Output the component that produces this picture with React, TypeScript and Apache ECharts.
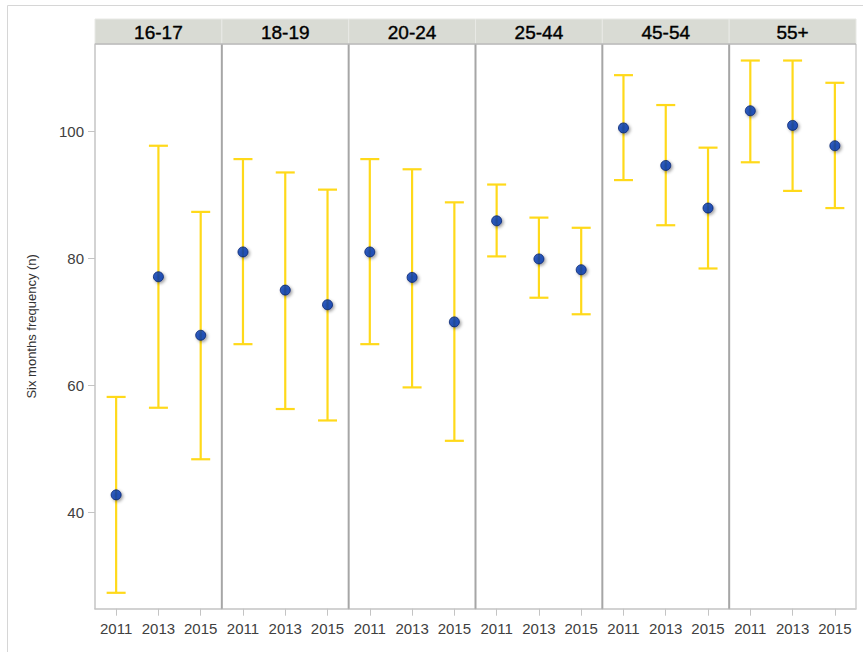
import React, { useEffect, useRef } from "react";
import * as echarts from "echarts";

const groups = ["16-17", "18-19", "20-24", "25-44", "45-54", "55+"];
const years = ["2011", "2013", "2015"];
const means = [
  [42.8, 77.1, 67.9],
  [81.0, 75.0, 72.7],
  [81.0, 77.0, 70.0],
  [85.9, 79.9, 78.2],
  [100.5, 94.6, 87.9],
  [103.2, 100.9, 97.7],
];
const lower = [
  [27.4, 56.5, 48.4],
  [66.5, 56.3, 54.5],
  [66.5, 59.7, 51.3],
  [80.3, 73.8, 71.2],
  [92.3, 85.2, 78.4],
  [95.1, 90.6, 87.9],
];
const upper = [
  [58.2, 97.7, 87.3],
  [95.6, 93.5, 90.8],
  [95.6, 94.0, 88.8],
  [91.6, 86.4, 84.8],
  [108.8, 104.1, 97.4],
  [111.1, 111.1, 107.6],
];
const yTicks = [40, 60, 80, 100];
const yMin = 24.9;
const yMax = 113.7;
const yTitle = "Six months frequency (n)";

const PLOT_LEFT = 95;
const PLOT_RIGHT = 856;
const PLOT_TOP = 44;
const PLOT_BOTTOM = 608.7;
const HEADER_TOP = 19;

export default function App() {
  const ref = useRef<HTMLDivElement>(null);
  useEffect(() => {
    if (!ref.current) return;
    const chart = echarts.init(ref.current, undefined, { renderer: "svg" });
    const n = groups.length;
    const pw = (PLOT_RIGHT - PLOT_LEFT) / n;
    const grids: any[] = [];
    const xAxes: any[] = [];
    const yAxes: any[] = [];
    const series: any[] = [];
    const graphics: any[] = [];
    const font = "Arial, 'Liberation Sans', sans-serif";

    graphics.push({
      type: "rect",
      shape: { x: 7.5, y: 5.5, width: 900, height: 700 },
      style: { fill: "none", stroke: "#d6d6d6", lineWidth: 1 },
      silent: true,
    });

    groups.forEach((g, i) => {
      const left = PLOT_LEFT + i * pw;
      grids.push({
        left,
        width: pw,
        top: PLOT_TOP,
        height: PLOT_BOTTOM - PLOT_TOP,
        containLabel: false,
      });
      xAxes.push({
        type: "category",
        gridIndex: i,
        data: years,
        boundaryGap: true,
        axisLine: { show: true, lineStyle: { color: "#c4c4c4", width: 1.5 } },
        axisTick: { show: true, alignWithLabel: true, interval: 0, length: 7, lineStyle: { color: "#c4c4c4" } },
        axisLabel: {
          color: "#404040",
          fontSize: 15,
          fontFamily: font,
          margin: 12,
          interval: 0,
          hideOverlap: false,
        },
        splitLine: { show: false },
      });
      yAxes.push({
        type: "value",
        gridIndex: i,
        min: yMin,
        max: yMax,
        show: i === 0,
        axisLine: { show: i === 0, lineStyle: { color: "#c4c4c4", width: 1.5 } },
        axisTick: { show: i === 0, length: 7, customValues: yTicks, lineStyle: { color: "#c4c4c4" } },
        axisLabel: {
          show: i === 0,
          customValues: yTicks,
          color: "#404040",
          fontSize: 15,
          fontFamily: font,
          margin: 11,
        },
        splitLine: { show: false },
        name: i === 0 ? yTitle : "",
        nameLocation: "middle",
        nameGap: 57,
        nameTextStyle: { color: "#333", fontSize: 13, fontFamily: font },
      });
      const ebData = years.map((y, j) => [j, lower[i][j], upper[i][j]]);
      series.push({
        type: "custom",
        xAxisIndex: i,
        yAxisIndex: i,
        data: ebData,
        z: 2,
        renderItem: (params: any, api: any) => {
          const x = api.value(0);
          const lo = api.coord([x, api.value(1)]);
          const hi = api.coord([x, api.value(2)]);
          const cap = 9.5;
          const style = { stroke: "#ffd91a", lineWidth: 2.2 };
          return {
            type: "group",
            children: [
              { type: "line", shape: { x1: lo[0], y1: lo[1], x2: hi[0], y2: hi[1] }, style },
              { type: "line", shape: { x1: lo[0] - cap, y1: lo[1], x2: lo[0] + cap, y2: lo[1] }, style },
              { type: "line", shape: { x1: hi[0] - cap, y1: hi[1], x2: hi[0] + cap, y2: hi[1] }, style },
            ],
          };
        },
      });
      series.push({
        type: "scatter",
        xAxisIndex: i,
        yAxisIndex: i,
        data: years.map((y, j) => [j, means[i][j]]),
        symbol: "circle",
        symbolSize: 10,
        z: 3,
        itemStyle: {
          color: "#0838b0",
          borderColor: "#00206e",
          borderWidth: 1,
          shadowBlur: 3,
          shadowColor: "rgba(0,0,0,0.45)",
          shadowOffsetX: 1.5,
          shadowOffsetY: 1.5,
        },
      });

      graphics.push({
        type: "rect",
        shape: { x: left, y: HEADER_TOP, width: pw, height: PLOT_TOP - HEADER_TOP },
        style: { fill: "#d9dbd4", stroke: "#e8e9e5", lineWidth: 1 },
        silent: true,
        z: 1,
      });
      graphics.push({
        type: "text",
        x: left + pw / 2,
        y: (HEADER_TOP + PLOT_TOP) / 2 + 1,
        style: {
          text: g,
          fill: "#000",
          fontSize: 19,
          fontWeight: "normal",
          fontFamily: font,
          align: "center",
          verticalAlign: "middle",
          stroke: "#000",
          lineWidth: 0.4,
        },
        silent: true,
        z: 2,
      });
      if (i > 0) {
        graphics.push({
          type: "line",
          shape: { x1: left, y1: PLOT_TOP, x2: left, y2: PLOT_BOTTOM },
          style: { stroke: "#a6a6a6", lineWidth: 2 },
          silent: true,
          z: 1,
        });
      }
    });
    graphics.push({
      type: "line",
      shape: { x1: PLOT_LEFT, y1: PLOT_TOP, x2: PLOT_RIGHT, y2: PLOT_TOP },
      style: { stroke: "#b8b8b8", lineWidth: 1.5 },
      silent: true,
      z: 3,
    });
    graphics.push({
      type: "line",
      shape: { x1: PLOT_RIGHT, y1: PLOT_TOP, x2: PLOT_RIGHT, y2: PLOT_BOTTOM },
      style: { stroke: "#cfcfcf", lineWidth: 1.5 },
      silent: true,
      z: 1,
    });

    chart.setOption({
      animation: false,
      backgroundColor: "#ffffff",
      grid: grids,
      xAxis: xAxes,
      yAxis: yAxes,
      series,
      graphic: graphics,
    });
    return () => chart.dispose();
  }, []);
  return (
    <div
      ref={ref}
      style={{ position: "fixed", left: 0, top: 0, width: 863, height: 652, background: "#fff" }}
    />
  );
}
